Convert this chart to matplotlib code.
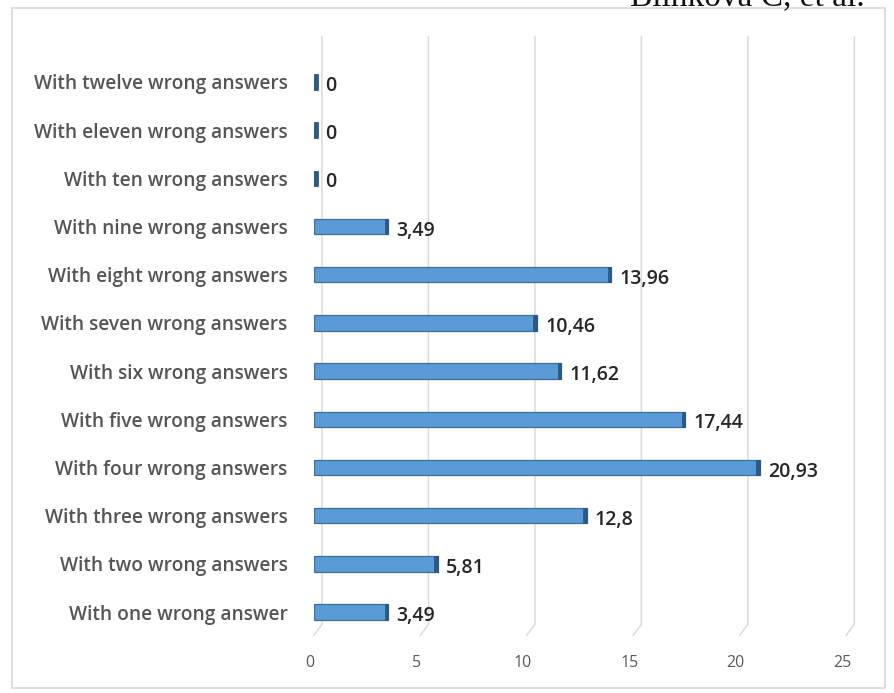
import matplotlib
matplotlib.use("Agg")
import matplotlib.pyplot as plt
from matplotlib.patches import Rectangle
from matplotlib.transforms import ScaledTranslation

categories = [
    "With one wrong answer",
    "With two wrong answers",
    "With three wrong answers",
    "With four wrong answers",
    "With five wrong answers",
    "With six wrong answers",
    "With seven wrong answers",
    "With eight wrong answers",
    "With nine wrong answers",
    "With ten wrong answers",
    "With eleven wrong answers",
    "With twelve wrong answers",
]
values = [3.49, 5.81, 12.8, 20.93, 17.44, 11.62, 10.46, 13.96, 3.49, 0, 0, 0]
value_labels = ["3,49", "5,81", "12,8", "20,93", "17,44", "11,62",
                "10,46", "13,96", "3,49", "0", "0", "0"]
xticks = [0, 5, 10, 15, 20, 25]

plt.rcParams['font.family'] = ['Open Sans', 'DejaVu Sans']

fig = plt.figure(figsize=(8.95, 6.93), dpi=100)
ax = fig.add_axes([0.3508, 0.0765, 0.6067, 0.870])

# outer chart frame
fig.patches.append(Rectangle((12 / 895, 5 / 693), 873 / 895, 1 - 13 / 693,
                             transform=fig.transFigure, fill=False,
                             edgecolor='#d9d9d9', linewidth=1.2))
# caption cut off at the top edge, as in the source image
fig.text(865 / 895, 1 - 6 / 693, "Blinkova C, et al.", ha='right', va='baseline',
         fontsize=24, family='Liberation Serif', color='#111111')

y = list(range(len(categories)))
bar_h = 0.32
cap_w = 0.17

# back-wall gridlines with the small 3D floor step
shift = 8 / 21.28
for t in xticks:
    ax.plot([t, t + shift, t + shift], [0.008, 0.026, 1.0],
            transform=ax.get_xaxis_transform(), color='#dadada',
            linewidth=1.1, clip_on=False, zorder=0)

ax.barh(y, values, height=bar_h, color='#5b9bd5', edgecolor='#3a6f9f',
        linewidth=0.9, zorder=2)
ax.barh(y, [cap_w] * len(values), left=[v - cap_w if v > 0 else 0 for v in values],
        height=bar_h, color='#2c5a86', edgecolor='#2c5a86', linewidth=0.6, zorder=3)

for yi, v, lab in zip(y, values, value_labels):
    ax.annotate(lab, (v, yi), xytext=(6 if v > 0 else 8, -3),
                textcoords='offset points', ha='left', va='center',
                fontsize=14, color='#262626', fontweight='semibold')

ax.set_xlim(0, 25.5)
ax.set_ylim(-0.58, 11.93)
ax.set_xticks(xticks)
ax.set_xticklabels([str(t) for t in xticks])
ax.set_yticks(y)
ax.set_yticklabels(categories, fontweight='semibold')
ax.tick_params(axis='x', length=0, pad=11, labelsize=11.5, labelcolor='#595959')
ax.tick_params(axis='y', length=0, pad=19, labelsize=13.8, labelcolor='#555555')
for lab in ax.get_xticklabels():
    lab.set_transform(lab.get_transform() + ScaledTranslation(-4 / 100, 0, fig.dpi_scale_trans))
for s in ax.spines.values():
    s.set_visible(False)
ax.patch.set_alpha(0)

fig.savefig("out.png", dpi=100)
